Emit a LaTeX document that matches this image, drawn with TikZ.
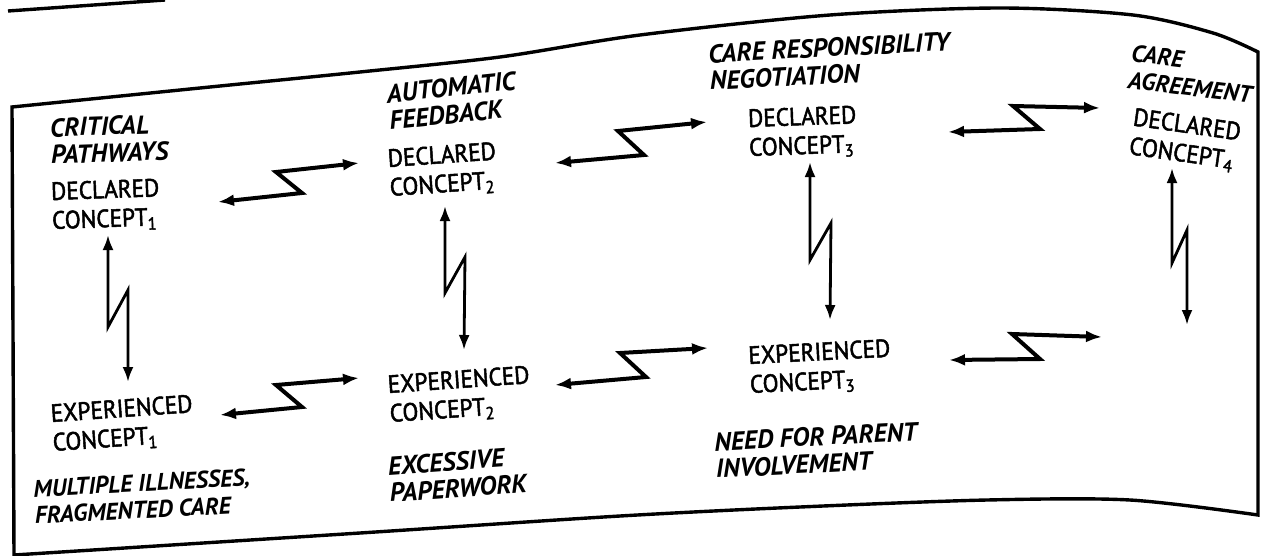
\documentclass[tikz,border=0pt]{standalone}
\usepackage{fontspec}
\setmainfont{PT Sans}
\newfontfamily\conceptfont{PT Sans}[FakeBold = 2, FakeStretch = 0.93]
\usetikzlibrary{arrows.meta}

\tikzset{
    edge/.style = {black, line width = 1.7pt},
    concept/.style = {anchor = base west, inner sep = 0pt, align = left, font = \conceptfont\fontsize{12.5}{14.5}\selectfont},
    theme/.style = {concept, font = \fontsize{13}{13.5}\selectfont\bfseries\itshape},
    small theme/.style = {concept, font = \fontsize{12}{13.5}\selectfont\bfseries\itshape},
    zigzag/.style = {line width = 2pt, {Latex[length = 8pt, width = 6pt]}-{Latex[length = 8pt, width = 6pt]}},
    bolt/.style = {line width = 1.4pt, {Latex[length = 7.5pt, width = 5.5pt]}-{Latex[length = 7.5pt, width = 5.5pt]}},
}

\begin{document}
\begin{tikzpicture}[x = .5pt, y = -.5pt]
    \useasboundingbox (0, 0) rectangle (1262, 556);

    % edge of the figure above
    \draw [edge] (8, 11) -- (165, 0);

    % frame
    \draw [edge] plot [smooth] coordinates {(12, 107) (200, 88) (360, 72) (500, 57) (640, 35) (830, 15) (1000, 8) (1133, 15) (1213, 33) (1258, 52)}
        -- (1258, 515)
        -- plot [smooth] coordinates {(1258, 515) (1130, 500) (987, 500) (800, 507) (620, 516) (360, 533) (14, 555)}
        -- cycle;

    % declared row (node at the baseline of the last line)
    \node [theme, rotate = 2] (critical) at (51, 164) {CRITICAL\\PATHWAYS};
    \node [concept, rotate = 2] (declared 1) at (52, 229) {DECLARED\\CONCEPT\textsubscript{1}};
    \node [theme, rotate = 6] (feedback) at (390, 130) {AUTOMATIC\\FEEDBACK};
    \node [concept, rotate = 4] (declared 2) at (390, 196) {DECLARED\\CONCEPT\textsubscript{2}};
    \node [theme, rotate = 3] (negotiation) at (710, 90) {CARE RESPONSIBILITY\\NEGOTIATION};
    \node [concept, rotate = 2] (declared 3) at (749, 156) {DECLARED\\CONCEPT\textsubscript{3}};
    \node [small theme, rotate = -7] (agreement) at (1127, 88) {CARE\\AGREEMENT};
    \node [concept, rotate = -8] (declared 4) at (1128, 154) {DECLARED\\CONCEPT\textsubscript{4}};

    % experienced row
    \node [concept, rotate = 4] (experienced 1) at (53, 451) {EXPERIENCED\\CONCEPT\textsubscript{1}};
    \node [small theme, rotate = 3] (illnesses) at (35, 524) {MULTIPLE ILLNESSES,\\FRAGMENTED CARE};
    \node [concept, rotate = 4] (experienced 2) at (390, 422) {EXPERIENCED\\CONCEPT\textsubscript{2}};
    \node [theme, rotate = 4] (paperwork) at (390, 502) {EXCESSIVE\\PAPERWORK};
    \node [concept, rotate = 3] (experienced 3) at (750, 393) {EXPERIENCED\\CONCEPT\textsubscript{3}};
    \node [theme, rotate = 3] (parent) at (716, 478) {NEED FOR PARENT\\INVOLVEMENT};

    % ends of the zigzag arrows
    \coordinate (h1 a) at (218, 202);  \coordinate (h1 b) at (359, 163);
    \coordinate (h2 a) at (555, 163);  \coordinate (h2 b) at (707, 122);
    \coordinate (h3 a) at (948, 132);  \coordinate (h3 b) at (1100, 108);
    \coordinate (b1 a) at (220, 415);  \coordinate (b1 b) at (359, 378);
    \coordinate (b2 a) at (555, 385);  \coordinate (b2 b) at (708, 348);
    \coordinate (b3 a) at (949, 360);  \coordinate (b3 b) at (1102, 337);
    \coordinate (v1 a) at (108, 235);  \coordinate (v1 b) at (128, 382);
    \coordinate (v2 a) at (445, 206);  \coordinate (v2 b) at (464, 350);
    \coordinate (v3 a) at (810, 162);  \coordinate (v3 b) at (830, 320);
    \coordinate (v4 a) at (1172, 168); \coordinate (v4 b) at (1187, 325);

    % horizontal
    \draw [zigzag] (h1 a) -- ++(84, -9) -- ++(-26, -21) -- (h1 b);
    \draw [zigzag] (h2 a) -- ++(89, -8) -- ++(-26, -24) -- (h2 b);
    \draw [zigzag] (h3 a) -- ++(92, -3) -- ++(-27, -23) -- (h3 b);
    \draw [zigzag] (b1 a) -- ++(82, -8) -- ++(-26, -22) -- (b1 b);
    \draw [zigzag] (b2 a) -- ++(91, -8) -- ++(-26, -24) -- (b2 b);
    \draw [zigzag] (b3 a) -- ++(91, -1) -- ++(-28, -25) -- (b3 b);

    % vertical
    \draw [bolt] (v1 a) -- ++(0, 92) -- ++(20, -37) -- (v1 b);
    \draw [bolt] (v2 a) -- ++(0, 87) -- ++(20, -36) -- (v2 b);
    \draw [bolt] (v3 a) -- ++(0, 98) -- ++(21, -37) -- (v3 b);
    \draw [bolt] (v4 a) -- ++(0, 95) -- ++(15, -33) -- (v4 b);
\end{tikzpicture}
\end{document}
